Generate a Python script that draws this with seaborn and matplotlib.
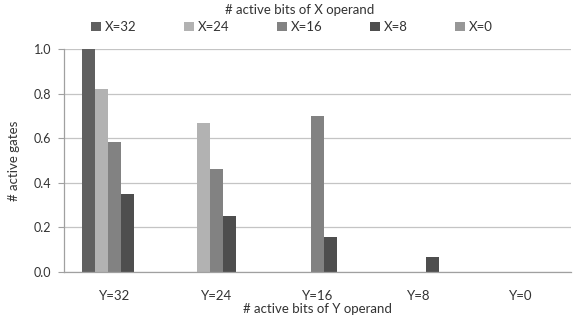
import matplotlib
matplotlib.use("Agg")
import matplotlib.pyplot as plt
import pandas as pd
import seaborn as sns

Y_LABELS = ["Y=32", "Y=24", "Y=16", "Y=8", "Y=0"]
X_LABELS = ["X=32", "X=24", "X=16", "X=8", "X=0"]
# active-gate fraction per X series, one value per Y category
X32 = [1.0, 0.0, 0.0, 0.0, 0.0]
X24 = [0.82, 0.67, 0.0, 0.0, 0.0]
X16 = [0.585, 0.46, 0.70, 0.0, 0.0]
X8 = [0.35, 0.25, 0.155, 0.065, 0.0]
X0 = [0.0, 0.0, 0.0, 0.0, 0.0]
COLORS = ["#606060", "#b2b2b2", "#828282", "#4e4e4e", "#979797"]


def main() -> None:
    rows = []
    for label, values in zip(X_LABELS, [X32, X24, X16, X8, X0]):
        for cat, v in zip(Y_LABELS, values):
            rows.append({"y": cat, "x": label, "value": v})
    df = pd.DataFrame(rows)

    sns.set_theme(style="white")
    plt.rcParams["font.family"] = ["Lato", "DejaVu Sans"]

    fig, ax = plt.subplots(figsize=(5.77, 3.23), dpi=100)
    fig.subplots_adjust(left=0.111, right=0.99, top=0.848, bottom=0.158)
    sns.barplot(data=df, x="y", y="value", hue="x", order=Y_LABELS, hue_order=X_LABELS,
                palette=COLORS, width=0.64, gap=0, saturation=1, linewidth=0, ax=ax)

    ax.set_ylim(0, 1.0)
    ax.set_xlim(-0.5, 4.5)
    ax.set_yticks([0.0, 0.2, 0.4, 0.6, 0.8, 1.0])
    ax.set_yticklabels(["0.0", "0.2", "0.4", "0.6", "0.8", "1.0"], fontsize=9, color="#333333")
    ax.tick_params(axis="x", labelsize=9.5, colors="#333333", length=0, pad=13)
    ax.tick_params(axis="y", length=4, width=0.8, color="#a0a0a0", left=True, pad=5)
    ax.yaxis.grid(True, color="#c4c4c4", linewidth=0.9)
    ax.set_axisbelow(True)
    for side in ["top", "right"]:
        ax.spines[side].set_visible(False)
    for side in ["left", "bottom"]:
        ax.spines[side].set_color("#a0a0a0")
        ax.spines[side].set_linewidth(0.9)

    ax.set_xlabel("# active bits of Y operand", fontsize=9.5, color="#333333", labelpad=1)
    ax.set_ylabel("# active gates", fontsize=9.5, color="#333333", labelpad=10)

    fig.text(0.52, 0.968, "# active bits of X operand", ha="center", va="center",
             fontsize=9.5, color="#333333")
    leg = ax.legend(loc="center", bbox_to_anchor=(0.506, 0.916), bbox_transform=fig.transFigure,
                    ncol=5, frameon=False, fontsize=9.5,
                    handlelength=0.75, handleheight=0.75,
                    handletextpad=0.3, columnspacing=3.6, borderaxespad=0)
    for t in leg.get_texts():
        t.set_color("#333333")

    fig.savefig("out.png", dpi=100)


if __name__ == "__main__":
    main()
